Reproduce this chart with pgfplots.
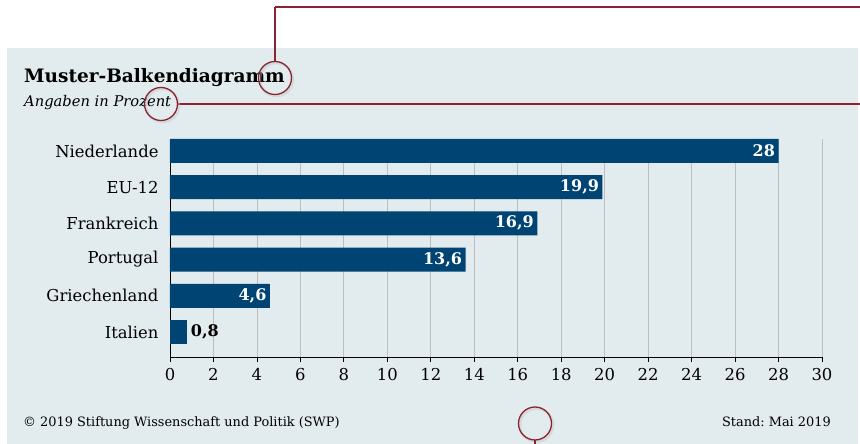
\documentclass[border=0pt]{standalone}
\usepackage{fontspec}
\setmainfont{DejaVu Serif}
\usepackage{pgfplots}
\usepackage{pgfplotstable}
\pgfplotsset{compat=1.18}

\definecolor{panel}{HTML}{E2EBEE}
\definecolor{barblue}{HTML}{004473}
\definecolor{gridgrey}{HTML}{BDBDBD}
\definecolor{annored}{HTML}{8B2232}

% y index: 0 = Italien (bottom) ... 5 = Niederlande (top)
\pgfplotstableread{
x    y  label
28   5  28
19.9 4  19,9
16.9 3  16,9
13.6 2  13,6
4.6  1  4,6
}\inside
\pgfplotstableread{
x    y  label
0.8  0  0,8
}\outside

\begin{document}
\frenchspacing
\begin{tikzpicture}[x=1pt,y=1pt]
\path[use as bounding box] (0,0) rectangle (860,444);
\fill[panel] (7,0) rectangle (858,396);

\begin{axis}[
  at={(170pt,87pt)}, anchor=south west,
  scale only axis,
  width=652pt, height=218pt,
  xmin=0, xmax=30,
  ymin=-0.69, ymax=5.33,
  xtick={0,2,...,30},
  ytick={0,1,2,3,4,5},
  yticklabels={Italien,Griechenland,Portugal,Frankreich,EU-12,Niederlande},
  axis x line*=bottom, axis y line*=left,
  axis line style={-, black, line width=0.8pt},
  xmajorgrids, major grid style={gridgrey, line width=0.8pt},
  tick align=outside,
  major tick length=5pt,
  x tick style={black, line width=0.8pt},
  y tick style={draw=none},
  tick label style={font=\fontsize{16.4}{19}\selectfont, black},
  xticklabel style={yshift=-3pt},
  yticklabel style={xshift=-3pt},
  /pgf/number format/assume math mode=true,
  xbar, bar width=24pt, bar shift=0pt,
  point meta=explicit symbolic,
  nodes near coords={\pgfplotspointmeta},
]
\addplot[fill=barblue, draw=none,
  every node near coord/.append style={anchor=east, text=white,
    font=\fontsize{16}{19}\selectfont\bfseries}]
  table[x=x, y=y, meta=label] {\inside};
\addplot[fill=barblue, draw=none,
  every node near coord/.append style={anchor=west, text=black,
    font=\fontsize{16}{19}\selectfont\bfseries}]
  table[x=x, y=y, meta=label] {\outside};
\end{axis}

% titles and footer
\node[anchor=base west, inner sep=0] at (24,361)
  {\fontsize{18.5}{22}\selectfont\bfseries Muster-Balkendiagramm};
\node[anchor=base west, inner sep=0] at (24,337)
  {\fontsize{14.7}{17}\selectfont\itshape Angaben in Prozent};
\node[anchor=base west, inner sep=0] at (23,17)
  {\fontsize{12.9}{15}\selectfont \textcopyright{} 2019 Stiftung Wissenschaft und Politik (SWP)};
\node[anchor=base east, inner sep=0] at (831,17)
  {\fontsize{12.9}{15}\selectfont Stand: Mai 2019};

% annotation markers
\begin{scope}[annored, line width=1.3pt]
  \draw (275,437) -- (860,437);
  \draw (275,437) -- (275,383);
  \draw[black!25, line width=2.5pt, opacity=0.4] (276.5,364.5) circle (16.5);
  \draw (275,366) circle (16.5);
  \draw (178,340) -- (860,340);
  \draw[black!25, line width=2.5pt, opacity=0.4] (162.5,338.5) circle (16.5);
  \draw (161,340) circle (16.5);
  \draw[black!25, line width=2.5pt, opacity=0.4] (536.5,19) circle (16.5);
  \draw (535,20.5) circle (16.5);
  \draw (535,4) -- (535,0);
\end{scope}
\end{tikzpicture}
\end{document}
